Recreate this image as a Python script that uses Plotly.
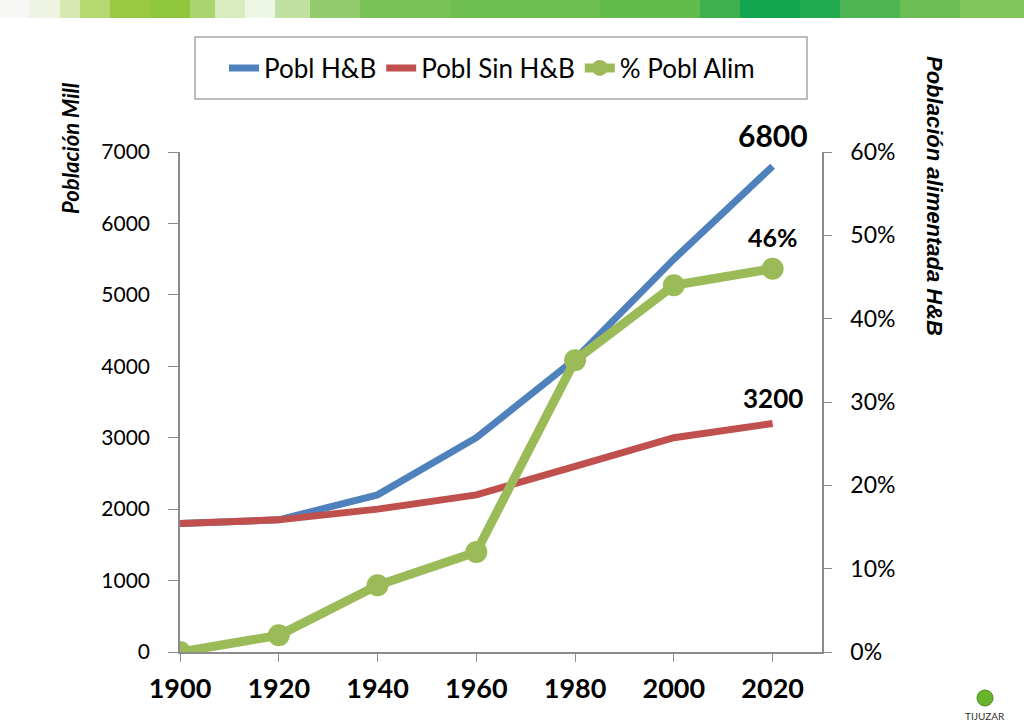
import plotly.graph_objects as go

years = [1900, 1920, 1940, 1960, 1980, 2000, 2020]
pobl_hb = [1800, 1850, 2200, 3000, 4100, 5500, 6800]
pobl_sin_hb = [1800, 1850, 2000, 2200, 2600, 3000, 3200]
pct_alim = [0, 2, 8, 12, 35, 44, 46]

left_ticks = [0, 1000, 2000, 3000, 4000, 5000, 6000, 7000]
right_ticks = [0, 10, 20, 30, 40, 50, 60]
x_ticks = years

BLUE = "#4F81BD"
RED = "#C0504D"
GREEN = "#9BBB59"
FONT = "Lato, 'Open Sans', sans-serif"
FONT2 = "'Liberation Sans', Arial, sans-serif"

W, H = 1024, 722
L, R, T, B = 180, 202, 152, 70
PW, PH = W - L - R, H - T - B

fig = go.Figure()
fig.add_trace(go.Scatter(x=years, y=pobl_hb, name="Pobl H&B", mode="lines",
                         line=dict(color=BLUE, width=7)))
fig.add_trace(go.Scatter(x=years, y=pobl_sin_hb, name="Pobl Sin H&B", mode="lines",
                         line=dict(color=RED, width=7)))
fig.add_trace(go.Scatter(x=years, y=pct_alim, name="% Pobl Alim", mode="lines+markers",
                         yaxis="y2", line=dict(color=GREEN, width=9),
                         marker=dict(color=GREEN, size=22)))

def px(xp):
    return (xp - L) / PW

def py(yp):
    return (H - B - yp) / PH

# top banner (decorative gradient strips)
banner = [(0, 30, "#f7f8f4"), (30, 60, "#eef3e2"), (60, 80, "#d7e8b0"), (80, 110, "#b5d870"),
          (110, 150, "#98c940"), (150, 190, "#8fc63c"), (190, 215, "#a9d470"), (215, 245, "#d9ecc0"),
          (245, 275, "#eef6e4"), (275, 310, "#bfe09e"), (310, 360, "#93cc6c"), (360, 450, "#78c257"),
          (450, 600, "#6fbf50"), (600, 700, "#63bb4c"), (700, 740, "#3fb04e"), (740, 800, "#12a650"),
          (800, 840, "#22aa4f"), (840, 900, "#4cb452"), (900, 960, "#6dbf55"), (960, 1024, "#7fc55a")]
shapes = []
for x0, x1, c in banner:
    shapes.append(dict(type="rect", xref="paper", yref="paper", x0=px(x0), x1=px(x1),
                       y0=py(18), y1=py(0), fillcolor=c, line=dict(width=0), layer="below"))
# legend box
shapes.append(dict(type="rect", xref="paper", yref="paper", x0=px(195), x1=px(807),
                   y0=py(99), y1=py(37), fillcolor="rgba(0,0,0,0)",
                   line=dict(color="#a6a6a6", width=1.5), layer="below"))
# logo sphere
shapes.append(dict(type="circle", xref="paper", yref="paper", x0=px(977), x1=px(993),
                   y0=py(706), y1=py(690), fillcolor="#6ab42d", line=dict(color="#4e8f1e", width=1)))

annotations = [
    dict(x=2020, y=6800, xref="x", yref="y", text="<b>6800</b>", showarrow=False,
         yshift=31, font=dict(size=30, color="black", family=FONT)),
    dict(x=2020, y=46, xref="x", yref="y2", text="<b>46%</b>", showarrow=False,
         yshift=32, font=dict(size=25, color="black", family=FONT)),
    dict(x=2020, y=3200, xref="x", yref="y", text="<b>3200</b>", showarrow=False,
         yshift=25, font=dict(size=26, color="black", family=FONT)),
    dict(x=px(70), y=py(148), xref="paper", yref="paper", text="<b><i>Población Mill</i></b>",
         textangle=-90, showarrow=False, xanchor="center", yanchor="middle",
         font=dict(size=22, color="black", family=FONT)),
    dict(x=px(935), y=py(196), xref="paper", yref="paper",
         text="<b><i>Población alimentada H&B</i></b>",
         textangle=90, showarrow=False, xanchor="center", yanchor="middle",
         font=dict(size=22, color="black", family=FONT2)),
    dict(x=px(985), y=py(708), xref="paper", yref="paper", text="TIJUZAR", showarrow=False,
         xanchor="center", yanchor="top", font=dict(size=10, color="#333", family=FONT)),
]

fig.update_layout(
    width=W, height=H,
    margin=dict(l=L, r=R, t=T, b=B),
    paper_bgcolor="white", plot_bgcolor="white",
    showlegend=True,
    legend=dict(orientation="h", x=px(224), y=py(68), xanchor="left", yanchor="middle",
                borderwidth=0, bgcolor="rgba(0,0,0,0)",
                font=dict(size=26, color="black", family=FONT),
                itemwidth=30, tracegroupgap=0),
    xaxis=dict(range=[1900, 2030], tickvals=x_ticks, ticktext=[f"<b>{v}</b>" for v in x_ticks],
               showgrid=False, zeroline=False, showline=True, linecolor="#8c8c8c", linewidth=1.5,
               ticks="outside", ticklen=8, tickcolor="#8c8c8c",
               tickfont=dict(size=27, color="black", family=FONT), ticklabelstandoff=4),
    yaxis=dict(range=[0, 7000], tickvals=left_ticks, showgrid=False, zeroline=False,
               showline=True, linecolor="#8c8c8c", linewidth=1.5,
               ticks="outside", ticklen=10, tickcolor="#8c8c8c",
               tickfont=dict(size=21, color="black", family=FONT), ticklabelstandoff=14),
    yaxis2=dict(range=[0, 60], overlaying="y", side="right", tickvals=right_ticks,
                ticktext=[f"{v}%" for v in right_ticks], showgrid=False, zeroline=False,
                showline=True, linecolor="#8c8c8c", linewidth=1.5,
                ticks="outside", ticklen=8, tickcolor="#8c8c8c",
                tickfont=dict(size=23, color="black", family=FONT), ticklabelstandoff=14),
    shapes=shapes,
    annotations=annotations,
)

fig.write_html("out.html")
